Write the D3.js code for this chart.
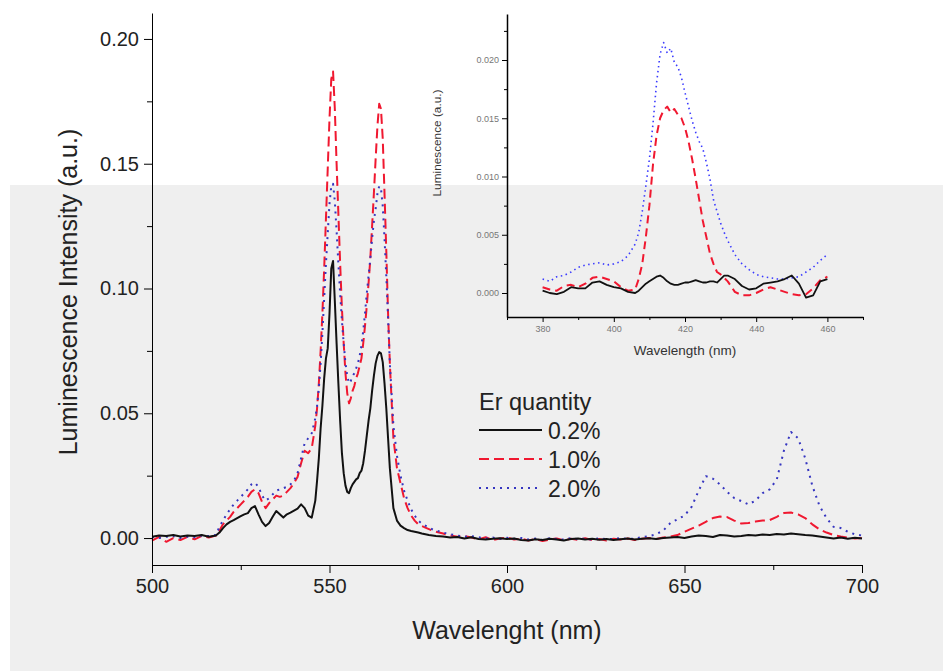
<!DOCTYPE html>
<html>
<head>
<meta charset="utf-8">
<script src="https://cdn.jsdelivr.net/npm/d3@7"></script>
<style>
  body { margin: 0; background: #fff; }
  svg { display: block; font-family: 'Liberation Sans', Arial, sans-serif; }
</style>
</head>
<body>
<div id="chart"></div>
<script>
// main spectrum (nm)
const mainWl = [500,502,504,506,508,510,512,514,516,518,
  519,520,521,522,523,524,525,526,527,528,529,530,531,532,533,534,535,536,537,538,539,540,541,542,543,544,545,546,
  546.5,547,547.5,548,548.5,549,549.5,550,550.5,551,551.5,552,552.5,553,553.5,554,554.5,555,555.5,556,556.5,557,557.5,
  558,558.5,559,559.5,560,560.5,561,561.5,562,562.5,563,563.5,564,564.5,565,565.5,566,566.5,567,
  568,569,570,571,572,573,574,575,576,577,578,579,580,
  582,584,586,588,590,592,594,596,598,600,602,604,606,608,610,612,614,616,618,620,622,624,626,628,630,632,634,636,638,640,
  642,644,646,648,650,652,654,656,658,660,662,664,666,668,670,672,674,676,678,680,682,684,686,688,690,692,694,696,698,700];

const er02 = [.0005,.001,.0008,.0012,.0006,.001,.0008,.0012,.0005,.001,
  .0022,.004,.0055,.0065,.0072,.008,.0088,.0095,.01,.012,.0128,.0095,.0065,.0048,.006,.0085,.0108,.0095,.0082,.0095,.0102,.011,.0118,.0135,.012,.009,.0082,.015,
  .023,.032,.044,.053,.064,.072,.076,.09,.108,.111,.095,.078,.062,.047,.034,.026,.021,.0185,.018,.02,.0215,.0225,.0235,
  .024,.026,.027,.03,.035,.041,.047,.052,.059,.065,.07,.073,.0745,.074,.0705,.062,.052,.04,.028,
  .012,.007,.005,.004,.0032,.0028,.0025,.0022,.0018,.0015,.0012,.001,.0008,
  .0006,.0002,.0004,-.0002,.0003,-.0004,-.0006,-.0003,-.0001,-.0004,-.0002,-.0008,-.001,-.0005,-.0008,-.0003,-.0006,-.001,-.0004,-.0002,-.0006,-.0003,-.0007,-.0004,-.0008,-.0005,-.0002,-.0006,-.0003,-.0001,
  -.0004,0,.0002,.0004,0,.0006,.001,.0008,.0004,.0012,.001,.0006,.0008,.0012,.001,.0014,.0012,.0016,.0014,.0018,.0015,.0012,.001,.0006,.0002,-.0002,.0002,-.0003,.0001,-.0002];

const er10 = [-.001,.0005,-.0015,0,-.0008,.0005,-.0005,.0008,.0002,.001,
  .003,.0055,.007,.0085,.0105,.012,.0135,.015,.0165,.0185,.0195,.018,.0145,.012,.014,.0155,.017,.0165,.017,.0185,.02,.022,.0245,.03,.035,.034,.036,.045,
  .052,.062,.075,.09,.108,.128,.148,.168,.184,.187,.172,.15,.13,.11,.092,.078,.066,.058,.054,.056,.059,.061,.064,
  .066,.069,.072,.078,.085,.093,.102,.112,.125,.138,.152,.165,.174,.172,.16,.138,.115,.09,.07,
  .04,.028,.022,.016,.012,.009,.007,.0055,.0048,.0042,.0036,.003,.0025,
  .0018,.001,.0005,.0008,.0002,-.0005,.0003,-.0008,-.0002,.0002,-.0006,-.0002,-.001,-.0004,-.0012,-.0006,-.0002,-.0009,-.0003,-.0007,-.0001,-.0008,-.0004,-.001,-.0003,-.0006,-.0002,-.0008,-.0003,0,
  -.0004,.0002,.0006,.0012,.0025,.0038,.005,.0065,.008,.0086,.0084,.007,.0058,.006,.0066,.007,.0072,.0085,.01,.0102,.0095,.008,.0055,.0035,.0022,.0012,.0006,.0002,-.0002,0];

const er20 = [.0005,0,.0005,.0008,0,.0005,.0003,.001,.0008,.0012,
  .0045,.007,.0095,.0115,.0135,.015,.0165,.018,.0195,.0215,.0222,.0205,.017,.015,.016,.0175,.019,.0195,.02,.0205,.0215,.023,.026,.032,.038,.04,.042,.048,
  .053,.06,.07,.082,.096,.11,.122,.134,.141,.142,.135,.123,.11,.098,.087,.078,.07,.065,.062,.063,.065,.066,.068,
  .07,.073,.077,.083,.09,.098,.105,.112,.12,.127,.132,.138,.141,.14,.133,.12,.105,.088,.07,
  .045,.033,.025,.019,.015,.0115,.009,.007,.0058,.005,.0042,.0035,.003,
  .0022,.0015,.001,.0005,.0008,.0003,-.0002,.0002,-.0004,.0001,-.0003,0,-.0006,-.0002,-.0008,-.0001,-.0004,-.0006,0,-.0005,-.0002,-.0006,-.0001,-.0005,-.0003,0,-.0004,-.0002,.0004,.0008,
  .0015,.003,.006,.0075,.009,.0125,.019,.0248,.0238,.0215,.0185,.016,.0148,.0135,.015,.018,.0195,.0235,.035,.0425,.04,.032,.021,.013,.008,.0045,.004,.0025,.0015,.001];

// inset spectrum (nm)
const insetWl = [380,382,384,386,388,390,392,394,396,398,400,402,404,406,
  407,408,409,410,411,412,413,414,415,416,417,418,419,420,421,422,423,424,425,426,427,428,429,430,431,432,
  434,436,438,440,442,444,446,448,450,452,454,456,458,460];

const inset02 = [.0002,0,-.0001,.0001,.0005,.0004,.0004,.0009,.001,.0007,.0005,.0004,.0001,0,
  .0002,.0005,.0008,.001,.0012,.0014,.0015,.0013,.001,.0008,.0007,.0007,.0008,.0009,.0009,.001,.0011,.001,.0009,.0009,.001,.001,.0009,.0012,.0015,.0015,
  .0012,.0006,.0003,.0004,.0008,.0009,.001,.0012,.0015,.0008,-.0004,-.0002,.001,.0012];

const inset10 = [.0005,.0003,.0002,.0006,.0007,.0005,.0008,.0013,.0014,.0012,.001,.0005,.0002,.0003,
  .0012,.0025,.0048,.0075,.011,.0135,.015,.0157,.016,.0155,.0158,.0153,.015,.0142,.013,.0115,.0098,.008,.0062,.0048,.0034,.0025,.0018,.0016,.0013,.001,
  .0001,-.0002,-.0002,0,.0003,.0005,.0003,.0001,-.0001,-.0002,-.0001,.0004,.0011,.0014];

const inset20 = [.0012,.001,.0014,.0015,.0018,.0022,.0024,.0025,.0026,.0024,.0025,.0027,.0032,.0042,
  .0052,.007,.0092,.0115,.0145,.018,.0205,.0215,.0206,.021,.0198,.0194,.0185,.0172,.016,.0148,.0138,.013,.0124,.0112,.0098,.008,.007,.006,.0052,.0045,
  .0033,.0025,.002,.0016,.0014,.0013,.0012,.0012,.0013,.0014,.0018,.0022,.0028,.0033];

const seriesNames = ['0.2%', '1.0%', '2.0%'];
const mainTicksX = [500, 550, 600, 650, 700];
const mainTicksY = [0, 0.05, 0.10, 0.15, 0.20];
const insetTicksX = [380, 400, 420, 440, 460];
const insetTicksY = [0, 0.005, 0.010, 0.015, 0.020];

const width = 943;
const height = 671;

const svg = d3.select('#chart').append('svg').attr('width', width).attr('height', height);

svg.append('rect').attr('x', 10).attr('y', 185).attr('width', width - 10).attr('height', height - 185).attr('fill', '#efefef');

const styles = [
  {color: '#111', dash: null, w: 2},
  {color: '#f01830', dash: '10,5', w: 2},
  {color: '#3535c0', dash: '2,5', w: 2}
];

// main chart
const x = d3.scaleLinear().domain([500, 700]).range([152, 862]);
const y = d3.scaleLinear().domain([-0.0108, 0.2104]).range([565, 13]);

const mainSeries = [er02, er10, er20].map((vals, k) => ({name: seriesNames[k], pts: mainWl.map((w, i) => [w, vals[i]]), st: styles[k]}));
const line = d3.line().x(d => x(d[0])).y(d => y(d[1]));

[1, 2, 0].forEach(k => {
  const s = mainSeries[k];
  svg.append('path').datum(s.pts).attr('d', line).attr('fill', 'none')
    .attr('stroke', s.st.color).attr('stroke-width', s.st.w).attr('stroke-dasharray', s.st.dash)
    .attr('stroke-linejoin', 'round');
});

svg.append('g').attr('transform', 'translate(0,565)')
  .call(d3.axisBottom(x).tickValues(mainTicksX).tickSize(8).tickSizeOuter(0).tickPadding(6).tickFormat(d3.format('d')))
  .attr('font-size', 20).attr('font-family', null).call(g => g.selectAll('text').attr('fill', '#222'));
svg.append('g').attr('transform', 'translate(0,565)')
  .call(d3.axisBottom(x).tickValues([525, 575, 625, 675]).tickSize(5).tickFormat(''))
  .call(g => g.select('.domain').remove());

svg.append('g').attr('transform', 'translate(152,0)')
  .call(d3.axisLeft(y).tickValues(mainTicksY).tickSize(8).tickSizeOuter(0).tickPadding(5).tickFormat(d3.format('.2f')))
  .attr('font-size', 20).attr('font-family', null).call(g => g.selectAll('text').attr('fill', '#222'));
svg.append('g').attr('transform', 'translate(152,0)')
  .call(d3.axisLeft(y).tickValues([0.025, 0.075, 0.125, 0.175]).tickSize(5).tickFormat(''))
  .call(g => g.select('.domain').remove());

svg.append('text').attr('x', 507).attr('y', 639).attr('text-anchor', 'middle')
  .attr('font-size', 25).attr('fill', '#222').text('Wavelenght (nm)');
svg.append('text').attr('transform', 'translate(77,292) rotate(-90)').attr('text-anchor', 'middle')
  .attr('font-size', 25).attr('fill', '#222').text('Luminescence Intensity (a.u.)');

// legend
const legend = svg.append('g').attr('transform', 'translate(479,0)');
legend.append('text').attr('x', 0).attr('y', 410).attr('font-size', 23.5).attr('fill', '#222').text('Er quantity');
seriesNames.forEach((n, k) => {
  const yy = 430 + k * 29;
  legend.append('line').attr('x1', 0).attr('x2', 63).attr('y1', yy).attr('y2', yy)
    .attr('stroke', styles[k].color).attr('stroke-width', styles[k].w).attr('stroke-dasharray', styles[k].dash);
  legend.append('text').attr('x', 69).attr('y', yy + 8.5).attr('font-size', 23).attr('fill', '#222').text(n);
});

// inset
const ix = d3.scaleLinear().domain([370, 470]).range([507, 863]);
const iy = d3.scaleLinear().domain([-0.00206, 0.02395]).range([317, 14]);
const iline = d3.line().x(d => ix(d[0])).y(d => iy(d[1]));
const insetStyles = [
  {color: '#111', dash: null, w: 1.8},
  {color: '#f01830', dash: '8,5', w: 2},
  {color: '#3a3aff', dash: '1.5,3.5', w: 1.6}
];
const insetSeries = [inset02, inset10, inset20].map(vals => insetWl.map((w, i) => [w, vals[i]]));

[2, 1, 0].forEach(k => {
  svg.append('path').datum(insetSeries[k]).attr('d', iline).attr('fill', 'none')
    .attr('stroke', insetStyles[k].color).attr('stroke-width', insetStyles[k].w)
    .attr('stroke-dasharray', insetStyles[k].dash).attr('stroke-linejoin', 'round');
});

svg.append('g').attr('transform', 'translate(0,317)')
  .call(d3.axisBottom(ix).tickValues(insetTicksX).tickSize(5).tickSizeOuter(0).tickPadding(4).tickFormat(d3.format('d')))
  .attr('font-size', 9).attr('font-family', null).call(g => g.selectAll('text').attr('fill', '#777'))
  .call(g => g.select('.domain').attr('stroke-width', 1.5));
svg.append('g').attr('transform', 'translate(0,317)')
  .call(d3.axisBottom(ix).tickValues([370, 390, 410, 430, 450, 470]).tickSize(3).tickFormat(''))
  .call(g => g.select('.domain').remove());

svg.append('g').attr('transform', 'translate(507,0)')
  .call(d3.axisLeft(iy).tickValues(insetTicksY).tickSize(5).tickSizeOuter(0).tickPadding(3).tickFormat(d3.format('.3f')))
  .attr('font-size', 9).attr('font-family', null).call(g => g.selectAll('text').attr('fill', '#777'))
  .call(g => g.select('.domain').attr('stroke-width', 1.5));
svg.append('g').attr('transform', 'translate(507,0)')
  .call(d3.axisLeft(iy).tickValues([0.0025, 0.0075, 0.0125, 0.0175, 0.0225]).tickSize(3).tickFormat(''))
  .call(g => g.select('.domain').remove());

svg.append('text').attr('x', 685).attr('y', 355).attr('text-anchor', 'middle')
  .attr('font-size', 13.5).attr('fill', '#333').text('Wavelength (nm)');
svg.append('text').attr('transform', 'translate(441,143) rotate(-90)').attr('text-anchor', 'middle')
  .attr('font-size', 11.8).attr('fill', '#333').text('Luminescence (a.u.)');
</script>
</body>
</html>
